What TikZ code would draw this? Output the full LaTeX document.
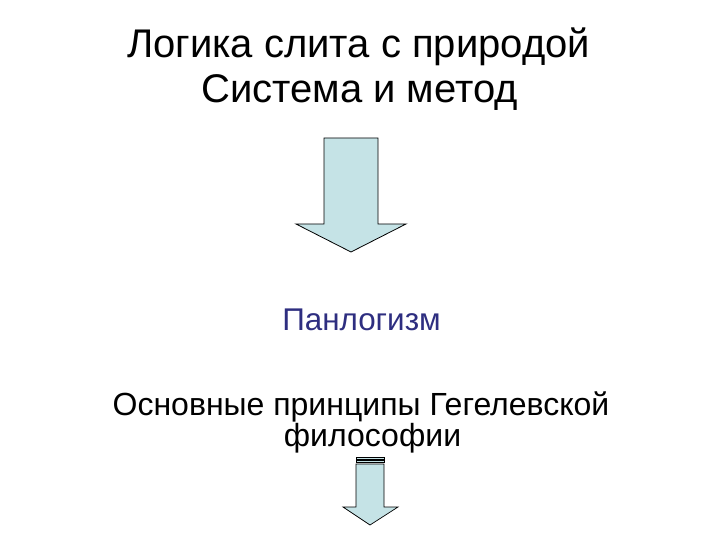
\documentclass[tikz,border=0pt]{standalone}
\usepackage{fontspec}
\setmainfont{Liberation Sans}
\definecolor{arrowfill}{HTML}{C5E3E6}
\definecolor{titleblue}{HTML}{2E2E80}
\begin{document}
\begin{tikzpicture}[x=1pt,y=-1pt,
  bigarrow/.style={draw=black,line width=0.8pt,fill=arrowfill,line join=miter},
  txt/.style={inner sep=0pt,anchor=base,align=center}]
\useasboundingbox (0,0) rectangle (720,540);
\node[txt,font=\fontsize{40}{44}\selectfont] (t1) at (358.5,58) {Логика слита с природой};
\node[txt,font=\fontsize{40}{44}\selectfont] (t2) at (359.5,103) {Система и метод};
% big arrow
\draw[bigarrow] (324,138) -- (378,138) -- (378,224) -- (406,224) -- (351,252) -- (296,224) -- (324,224) -- cycle;
\node[txt,font=\fontsize{31.4}{32}\selectfont,text=titleblue] (p) at (361.5,330) {Панлогизм};
\node[txt,font=\fontsize{32}{32}\selectfont] (o1) at (361,415) {Основные принципы Гегелевской};
\node[txt,font=\fontsize{32}{32}\selectfont] (o2) at (372.5,446) {философии};
% small arrow
\draw[bigarrow,line width=0.6pt] (356,457) rectangle (384,459);
\draw[bigarrow,line width=0.6pt] (356,460.5) rectangle (384,462.5);
\draw[bigarrow,line width=0.7pt] (356,464) -- (384,464) -- (384,507) -- (398,507) -- (370,525) -- (343,507) -- (356,507) -- cycle;
\end{tikzpicture}
\end{document}
